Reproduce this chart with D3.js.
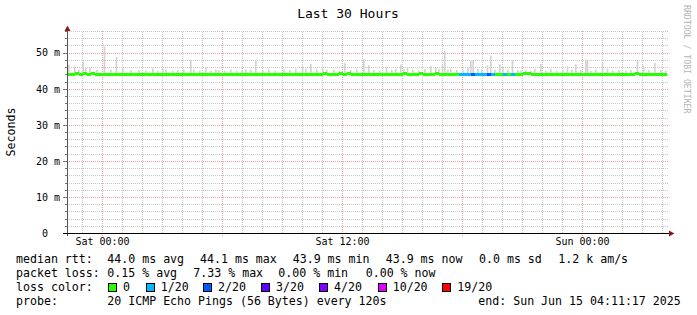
<!DOCTYPE html>
<html>
<head>
<meta charset="utf-8">
<script src="https://cdn.jsdelivr.net/npm/d3@7"></script>
<style>
  body { margin: 0; background: #fff; }
  svg { display: block; font-family: "DejaVu Sans Mono", monospace; }
</style>
</head>
<body>
<script>
// time window of the graph (30 hours)
const startTime = new Date(2025, 5, 13, 22, 15);
const endTime = new Date(2025, 5, 15, 4, 15);
const binMinutes = 12;

// median rtt per 12 minute bin (ms)
const medianMs = [
  44.0, 44.0, 44.1, 44.0, 44.1, 44.0, 44.1, 44.0, 44.0, 44.0,
  44.0, 44.0, 44.0, 44.0, 44.0, 44.0, 44.0, 44.0, 44.0, 44.0,
  44.0, 44.0, 44.0, 44.0, 44.0, 44.0, 44.0, 44.0, 44.0, 44.0,
  44.0, 44.0, 44.0, 44.0, 44.0, 44.0, 44.0, 44.0, 44.0, 44.0,
  44.0, 44.0, 44.0, 44.0, 44.0, 44.0, 44.0, 44.0, 44.0, 44.0,
  44.0, 44.0, 44.0, 44.0, 44.0, 44.0, 44.0, 44.0, 44.0, 44.0,
  44.0, 44.0, 44.0, 44.0, 44.1, 44.0, 44.0, 44.0, 44.1, 44.0,
  44.1, 44.0, 44.0, 44.0, 44.0, 44.0, 44.0, 44.0, 44.0, 44.0,
  44.0, 44.0, 44.0, 44.0, 44.1, 44.0, 44.0, 44.0, 44.1, 44.0,
  44.0, 44.0, 44.1, 44.0, 44.0, 44.0, 44.0, 44.0, 44.0, 44.0,
  44.0, 44.0, 44.0, 44.0, 44.0, 44.0, 44.0, 44.0, 44.0, 44.0,
  44.0, 44.0, 44.0, 44.0, 44.1, 44.1, 44.0, 44.0, 44.0, 44.0,
  44.0, 44.0, 44.0, 44.0, 44.0, 44.0, 44.0, 44.0, 44.0, 44.0,
  44.0, 44.0, 44.0, 44.0, 44.0, 44.0, 44.0, 44.0, 44.0, 44.0,
  44.0, 44.0, 44.1, 44.0, 44.0, 44.0, 44.0, 43.9, 43.9, 43.9
];

// lost pings (out of 20) per bin
const lossCount = [
  0, 0, 0, 0, 0, 0, 0, 0, 0, 0,
  0, 0, 0, 0, 0, 0, 0, 0, 0, 0,
  0, 0, 0, 0, 0, 0, 0, 0, 0, 0,
  0, 0, 0, 0, 0, 0, 0, 0, 0, 0,
  0, 0, 0, 0, 0, 0, 0, 0, 0, 0,
  0, 0, 0, 0, 0, 0, 0, 0, 0, 0,
  0, 0, 0, 0, 0, 0, 0, 0, 0, 0,
  0, 0, 0, 0, 0, 0, 0, 0, 0, 0,
  0, 0, 0, 0, 0, 0, 0, 0, 0, 0,
  0, 0, 0, 0, 0, 0, 0, 0, 1, 1,
  1, 2, 1, 1, 1, 2, 1, 0, 0, 1,
  0, 1, 0, 0, 0, 0, 0, 0, 0, 0,
  0, 0, 0, 0, 0, 0, 0, 0, 0, 0,
  0, 0, 0, 0, 0, 0, 0, 0, 0, 0,
  0, 0, 0, 0, 0, 0, 0, 0, 0, 0
];

// smoke: minutes after start and highest ping (ms) of that step
const smokeMinute = [
  3, 21, 33, 46, 54, 66, 87, 110, 129, 146, 165, 189, 213, 234, 255, 270, 285, 294,
  315, 330, 348, 369, 378, 396, 414, 429, 444, 453, 471, 489, 507, 522, 534, 549,
  564, 585, 603, 621, 648, 666, 684, 704, 714, 729, 747, 764, 777, 798, 816, 831,
  849, 867, 888, 903, 918, 936, 956, 972, 984, 999, 1008, 1019, 1035, 1053, 1071,
  1089, 1104, 1113, 1124, 1131, 1140, 1149, 1167, 1185, 1200, 1209, 1216, 1230,
  1242, 1259, 1269, 1281, 1296, 1305, 1320, 1334, 1350, 1359, 1374, 1389, 1401,
  1419, 1434, 1449, 1467, 1485, 1499, 1512, 1524, 1539, 1554, 1559, 1569, 1584,
  1604, 1619, 1635, 1653, 1674, 1689, 1709, 1727, 1743, 1761, 1779, 1794
];
const smokeMs = [
  46.7, 46.2, 45.3, 47.5, 45.8, 46.0, 45.3, 51.7, 45.3, 48.8, 45.6, 45.1, 45.2, 45.0, 45.6, 45.0, 45.5, 45.2,
  45.0, 45.2, 45.3, 47.9, 45.3, 45.0, 46.0, 45.0, 45.3, 45.2, 45.0, 45.3, 45.0, 45.0, 45.3, 45.3,
  47.8, 45.0, 45.3, 45.0, 45.3, 45.2, 45.5, 46.2, 45.5, 46.9, 45.3, 45.8, 45.2, 45.3, 45.0, 47.1,
  45.2, 45.3, 48.1, 46.5, 45.2, 45.0, 46.0, 45.2, 45.5, 46.7, 45.5, 46.0, 45.3, 45.0, 45.5,
  46.3, 46.0, 45.5, 46.5, 50.4, 45.3, 45.5, 45.2, 45.3, 46.0, 47.7, 48.0, 45.5,
  45.3, 46.5, 49.2, 45.3, 46.8, 46.2, 45.3, 47.9, 45.2, 45.0, 45.2, 45.0, 45.5,
  46.9, 45.0, 45.5, 45.0, 45.2, 46.2, 45.3, 46.8, 45.2, 48.1, 48.0, 45.0, 45.3,
  47.4, 45.5, 45.0, 45.2, 45.0, 45.2, 47.8, 46.5, 45.2, 47.1, 45.2, 45.0
];

// legend text
const rttStats = ["44.0 ms avg", "44.1 ms max", "43.9 ms min", "43.9 ms now", "0.0 ms sd", "1.2 k am/s"];
const lossStats = ["0.15 % avg", "7.33 % max", "0.00 % min", "0.00 % now"];
const lossLabels = ["0", "1/20", "2/20", "3/20", "4/20", "10/20", "19/20"];
const lossColors = ["#26ff00", "#00b8ff", "#0059ff", "#5e00ff", "#7e00ff", "#dd00ff", "#ff0000"];
const lossLevels = [0, 1, 2, 3, 4, 10, 19];
const probeText = "20 ICMP Echo Pings (56 Bytes) every 120s";
const endText = "end: Sun Jun 15 04:11:17 2025";

const width = 697, height = 315;
const svg = d3.select("body").append("svg").attr("width", width).attr("height", height);

const x = d3.scaleTime().domain([startTime, endTime]).range([67, 667]);
const y = d3.scaleLinear().domain([0, 56]).range([233, 31]);
const px = (v) => Math.round(v) + 0.5;
const addMin = (m) => new Date(startTime.getTime() + m * 60000);

// title
svg.append("text").attr("x", 348).attr("y", 18).attr("text-anchor", "middle")
  .style("font-size", "13px").text("Last 30 Hours");

// grid
const grid = svg.append("g").attr("fill", "none").attr("stroke-width", 1);
const isMajorT = (d) => d.getHours() % 6 === 0;
x.ticks(d3.timeHour.every(1)).filter((d) => !isMajorT(d)).forEach((d) => {
  grid.append("line").attr("x1", px(x(d))).attr("x2", px(x(d)))
    .attr("y1", y(0)).attr("y2", y(56))
    .attr("stroke", "#c8c8c8").attr("stroke-dasharray", "1,1");
});
y.ticks(28).filter((v) => v % 10 !== 0).forEach((v) => {
  grid.append("line").attr("x1", 67).attr("x2", 668)
    .attr("y1", px(y(v))).attr("y2", px(y(v)))
    .attr("stroke", "#c8c8c8").attr("stroke-dasharray", "1,1");
  grid.append("line").attr("x1", 65).attr("x2", 67)
    .attr("y1", px(y(v))).attr("y2", px(y(v))).attr("stroke", "#777");
});
x.ticks(d3.timeHour.every(6)).forEach((d) => {
  grid.append("line").attr("x1", px(x(d))).attr("x2", px(x(d)))
    .attr("y1", 236).attr("y2", y(56))
    .attr("stroke", "#eaa0a0").attr("stroke-dasharray", "1,1");
});
y.ticks(6).filter((v) => v > 0).forEach((v) => {
  grid.append("line").attr("x1", 67).attr("x2", 668)
    .attr("y1", px(y(v))).attr("y2", px(y(v)))
    .attr("stroke", "#eaa0a0").attr("stroke-dasharray", "1,1");
  grid.append("line").attr("x1", 63).attr("x2", 67)
    .attr("y1", px(y(v))).attr("y2", px(y(v))).attr("stroke", "#777");
});

// smoke
svg.append("g").selectAll("rect").data(smokeMinute).join("rect")
  .attr("x", (m) => x(addMin(m)))
  .attr("width", (m) => x(addMin(m + 5)) - x(addMin(m)))
  .attr("y", (m, i) => y(smokeMs[i]))
  .attr("height", (m, i) => y(44.0) - y(smokeMs[i]))
  .attr("fill", "#d2d2d2");

// median line coloured by loss
const colorFor = (n) => {
  let c = lossColors[0];
  lossLevels.forEach((lv, i) => { if (n >= lv) c = lossColors[i]; });
  return c;
};
svg.append("g").attr("shape-rendering", "crispEdges").selectAll("rect").data(medianMs).join("rect")
  .attr("x", (d, i) => x(addMin(i * binMinutes)))
  .attr("width", (d, i) => x(addMin((i + 1) * binMinutes)) - x(addMin(i * binMinutes)))
  .attr("y", (d) => y(d) - 1.5)
  .attr("height", 3)
  .attr("fill", (d, i) => colorFor(lossCount[i]));

// axes
svg.append("line").attr("x1", 67.5).attr("x2", 67.5).attr("y1", 236).attr("y2", 30)
  .attr("stroke", "#555");
svg.append("line").attr("x1", 63).attr("x2", 670).attr("y1", 233.5).attr("y2", 233.5)
  .attr("stroke", "#000");
svg.append("path").attr("d", "M64.5,31 L70.5,31 L67.5,25.5 Z").attr("fill", "#8b1a1a");
svg.append("path").attr("d", "M669,230.5 L669,236.5 L674.5,233.5 Z").attr("fill", "#8b1a1a");

// y labels
y.ticks(6).forEach((v) => {
  svg.append("text").attr("x", v === 0 ? 42 : 36).attr("y", y(v) + 3.8)
    .style("font-size", "10px").text(v === 0 ? "0" : v + " m");
});
// x labels
x.ticks(d3.timeHour.every(12)).forEach((d) => {
  svg.append("text").attr("x", x(d) + 0.5).attr("y", 245).attr("text-anchor", "middle")
    .style("font-size", "10px").text(d3.timeFormat("%a %H:%M")(d));
});

svg.append("text").attr("transform", "translate(15,132) rotate(-90)")
  .attr("text-anchor", "middle").style("font-size", "11.6px").text("Seconds");
svg.append("text").attr("transform", "translate(684,5) rotate(90)")
  .style("font-size", "8.2px").attr("fill", "#b4b4b4").text("RRDTOOL / TOBI OETIKER");

// legend
const leg = svg.append("g").style("font-size", "11.6px");
const line = (txt, lx, ly) => leg.append("text").attr("x", lx).attr("y", ly).text(txt);
line("median rtt:", 16, 263);
[107.3, 200, 292.7, 385.7, 479, 558.3].forEach((lx, i) => line(rttStats[i], lx, 263));
line("packet loss:", 16, 277);
[107.3, 193.3, 278.3, 365.7].forEach((lx, i) => line(lossStats[i], lx, 277));
line("loss color:", 16, 291);
[108, 145.7, 203, 261, 319, 377.7, 442.3].forEach((lx, i) => {
  leg.append("rect").attr("x", Math.round(lx) + 0.5).attr("y", 283.5).attr("width", 8).attr("height", 8)
    .attr("fill", lossColors[i]).attr("stroke", "#000");
  line(lossLabels[i], lx + 15, 291);
});
line("probe:", 16, 305);
line(probeText, 107.3, 305);
line(endText, 478.3, 305);
</script>
</body>
</html>
